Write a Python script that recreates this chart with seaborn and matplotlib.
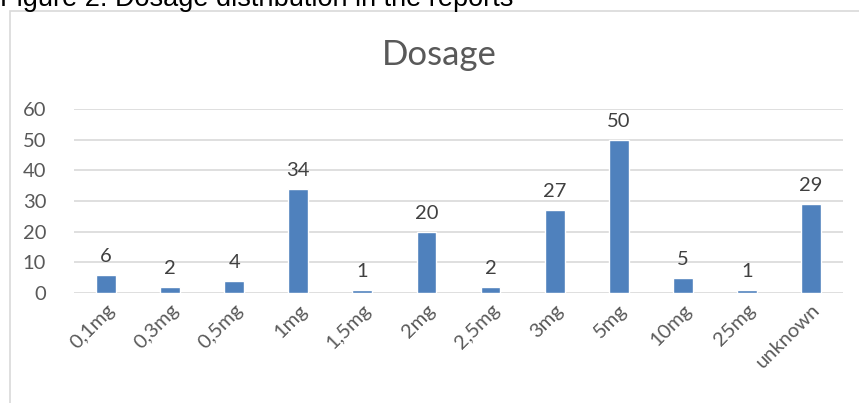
import pandas as pd
import matplotlib.pyplot as plt
import matplotlib.patches as patches
import seaborn as sns

# Dosage counts
dosages = ["0,1mg", "0,3mg", "0,5mg", "1mg", "1,5mg", "2mg", "2,5mg",
           "3mg", "5mg", "10mg", "25mg", "unknown"]
counts = [6, 2, 4, 34, 1, 20, 2, 27, 50, 5, 1, 29]

df = pd.DataFrame({"Dosage": dosages, "Count": counts})

sns.set_theme(style="white")
plt.rcParams['font.family'] = ['Lato', 'DejaVu Sans']

fig = plt.figure(figsize=(8.59, 4.03), dpi=100)

# caption of the figure, partly cut off at the top as in the source
fig.text(0.0, 1 - 6.5 / 403, "Figure 2: Dosage distribution in the reports",
         fontsize=19.5, color='black', family=['Liberation Sans'],
         ha='left', va='baseline')

# chart frame (only left and top edge inside the picture)
frame = patches.Rectangle((10 / 859, -0.2), 1.2, 1 - 11 / 403 + 0.2,
                          transform=fig.transFigure, fill=False,
                          edgecolor='#D9D9D9', linewidth=1.2)
fig.patches.append(frame)

ax = fig.add_axes([74 / 859, 1 - 293 / 403, (843 - 74) / 859, (293 - 109) / 403])
sns.barplot(data=df, x="Dosage", y="Count", color="#4F81BD", saturation=1,
            width=0.31, ax=ax)

ax.set_ylim(0, 60)
ax.set_yticks(range(0, 61, 10))
ax.yaxis.grid(True, color='#D9D9D9', linewidth=1.2)
ax.set_axisbelow(True)
for s in ax.spines.values():
    s.set_visible(False)
ax.set_xlabel("")
ax.set_ylabel("")
ax.tick_params(axis='y', colors='#595959', labelsize=14.5, length=0, pad=20)
ax.tick_params(axis='x', colors='#595959', labelsize=14.5, length=0, pad=6)
plt.setp(ax.get_xticklabels(), rotation=45, ha='right', rotation_mode='anchor')

for i, v in enumerate(counts):
    ax.annotate(str(v), (i, v), xytext=(0, 7), textcoords='offset points',
                ha='center', va='bottom', fontsize=14.5, color='#404040')

fig.text(0.512, 1 - 55 / 403, "Dosage", fontsize=25, color='#595959',
         ha='center', va='center')

fig.savefig("out.png", dpi=100)
